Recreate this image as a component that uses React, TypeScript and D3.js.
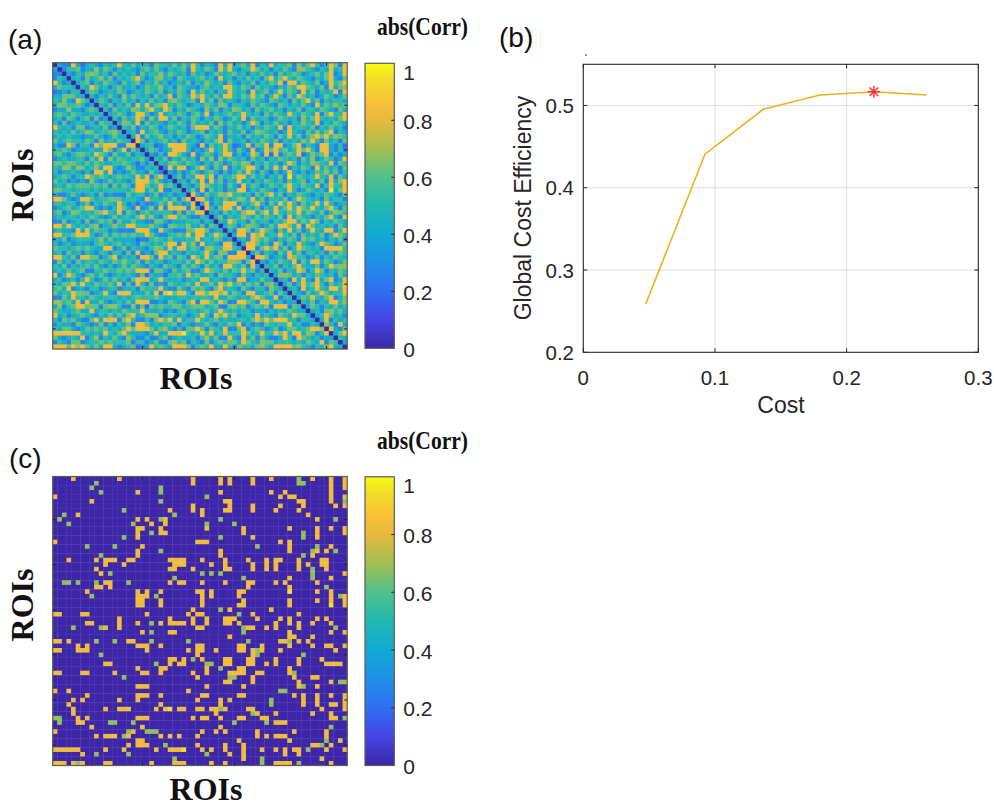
import React, { useMemo } from "react";
import * as d3 from "d3";

// ---------------- DATA ----------------
const N = 64; // number of ROIs

// Panel (a) abs(Corr): one string per row, starting at the diagonal cell (col = row).
// Each digit is a colour level (see digitValues); cells that survive
// the threshold in panel (c) take their value from thresholdedCellsByRow instead.
const corrRowsFromDiagonal: string[] = [
  "04335424 54354535 46455365 54646455 35436454 56453546 45563546 45354635",
  "0355634 45465354 54356464 35456345 46534564 35546453 54643565 43546456",
  "043546 56453645 45364553 46545364 53465456 45354645 36456534 56465345",
  "04536 45546354 56453465 45365445 64536453 54645365 46354654 35465436",
  "0456 35465436 45635464 53454635 46545364 35463546 54356465 46345564",
  "054 36453564 45346556 45365443 56454635 46536454 35465346 54635465",
  "04 65345465 34546546 35465354 64535465 45364563 54465354 63545436",
  "0 53546435 46545364 54365446 35464535 46545635 45364564 53465346",
  "04653546 45354645 36454563 54636454 35465436 54536465 46354554",
  "0546354 63545464 35465345 46545635 54364654 36545464 35465356",
  "053645 45646354 56354654 35463545 64536456 45354635 54654364",
  "04565 34565346 45465356 46354564 53545364 65435465 45364553",
  "0536 45463546 54635465 35465346 45364553 46545354 63545465",
  "045 64536454 35465364 54635464 53546354 64535465 46354654",
  "05 46354653 46545364 35465354 64535465 45364554 63546453",
  "0 45364564 35465345 63545364 46354654 53465436 45465354",
  "04536456 45354653 46546354 53645465 36454635 54635465",
  "0463545 64536454 35465364 45354654 63545465 45364536",
  "045523 46353542 53645352 34536543 52346535 43564352",
  "04653 45362534 35645453 64353426 35645364 53464353",
  "0435 34564353 46535643 53426352 43565424 35643534",
  "054 63546453 54635465 45364535 46545364 53465345",
  "05 46354654 35465346 54635464 53546354 46545365",
  "0 35465346 45364535 46545364 54635465 35464536",
  "04353464 35642534 64353642 53464353 46534635",
  "0463546 45536456 35464535 46354654 53546364",
  "045364 53546354 64535465 45364563 54635465",
  "05435 46545364 35465346 54635465 46354554",
  "0463 53645354 46354654 35465346 54536465",
  "054 36454635 54536465 46354654 35465436",
  "04 65354645 36454635 54635465 45364553",
  "0 46354536 35464536 46545364 53465345",
  "04536454 63546354 54635465 35464536",
  "0453645 46354654 35465346 54635465",
  "046354 53546465 46354654 35465436",
  "05436 45364553 54635465 46354654",
  "0465 35465346 45364535 64545364",
  "053 54635465 36454635 45465354",
  "04 65354645 53546364 54635465",
  "0 45364564 35465345 64535463",
  "04536453 46354654 35465346",
  "0453646 54635465 45364535",
  "046354 36454635 54536465",
  "05463 45364553 46354654",
  "0435 46545364 53465346",
  "054 63546354 46354654",
  "05 46354653 54635465",
  "0 45364535 46545364",
  "04536454 35465346",
  "0463545 64536454",
  "045364 53546354",
  "05436 45364553",
  "0465 35465346",
  "054 63546354",
  "04 65354645",
  "0 45364564",
  "04536453",
  "0463545",
  "045364",
  "05436",
  "0465",
  "054",
  "04",
  "0",
];

// colour level digit -> abs(Corr) value
const digitValues: Record<string, number> = {
  "0": 0,
  "2": 0.2,
  "3": 0.28,
  "4": 0.43,
  "5": 0.53,
  "6": 0.63,
};

// Panel (c) thresholded abs(Corr): non-zero cells of the upper triangle, per row.
// token = <column><level>, level g ~0.68 (green), o ~0.83 (orange), y ~0.95 (yellow)
const thresholdedCellsByRow: string[] = [
  "4o 14o 30o 36o 38o 43o 47o 53g 56o 60o 63o",
  "9g 30o 36o 38o 43o 53g 54g 60o 63o",
  "8g 23g 60o 63o",
  "10g 18o 23g 36o 47o 50o 60o",
  "33g 49o 51o 52o 60o 63o",
  "8o 23g 37o 38o 53o 54o 60o 63g",
  "30o 38o 43o 49o 54o 61o 63o",
  "15g 25o 30o 32o 37o 38o 43o 48o 53o",
  "26g 32o 55o",
  "18o 20o 23g 24o 36g 57o 61g",
  "17g 21o 24o 33g 39g",
  "18o 19o 23o 33o 41o 51o 57o 60o 63o",
  "18o 21g 23o 24o 41o 54g 57o 63o",
  "15g 18o 36g 43o 54g 57o",
  "31o 32o 33o 49o 51o",
  "19o 44g 51o 57g 60o",
  "18o 23g 36o 51o 56g 57o 59o 61g",
  "18o 36o 54g 56o",
  "25o 26o 27o 28o 32o 37o 42o 46o 48o 49o 53o 58o 59o",
  "26o 27o 28o 34o 37o 43o 46o 48o 53o 55o 58o 59o",
  "25o 26o 30o 37o 38o 43o 46o 48o 53o 56g 59o",
  "32g 34g 36g 56g 63o",
  "26g 41g 51o 56g 60o",
  "25o 27o 28o 32o 37o 42o 43o 48o 50o 57o",
  "42o 51o 59g",
  "31o 32o 34o 40o 41o 51y 57o 60o",
  "32o 34o 40o 60o 62g 63o",
  "32o 41o 51o 57o 60o 63o",
  "32o 40o 41o 51o 60y 63o",
  "30o 36g 38o 47o",
  "31o 32o 40g 43o 53o",
  "33o 37o 38o 39o 44o 49o 51o 57o 59o",
  "33o 37o 38o 40o 48o 51o 53o 56o 60o",
  "41g 42o 43o 46o 48o 53o 61g",
  "41g 51o 60o 63o",
  "38o 51o 52o 56o",
  "42g 49o 50o 51g 53o 55o",
  "40o 41o 45o 51o 56o 59o 60o 63o",
  "40o 41o 43o 44g 45o 49o 61o",
  "43o 44g 54g",
  "42o 43o 48o 53o 58o",
  "42o 43o 46o 48o 53o 59o 60o 61o 62o",
  "51o",
  "44o 45o 51o 52g",
  "52o 56o 57o",
  "53o 60o 62g 63g",
  "53o 54g 57o",
  "49g 50g",
  "52o 54o 57o 60o 63o",
  "54o 57o 63o",
  "54o 57o 60o 61o 63o",
  "58o 63o",
  "56o 60o",
  "60o 61o 63g",
  "",
  "60g",
  "59o",
  "59o",
  "59g 62o",
  "60o",
  "63o",
  "",
  "",
  "",
];

const levelValues: Record<string, number> = { g: 0.68, o: 0.83, y: 0.95 };

// parula-like colormap
const parulaPositions = [0, 0.1, 0.2, 0.3, 0.4, 0.5, 0.6, 0.7, 0.8, 0.86, 0.94, 1];
const parulaColors = [
  "#3e26a8", "#4545e4", "#2f6ef4", "#1e8fe6", "#12a9d4", "#22b8b0",
  "#4fc18b", "#a3bf52", "#e6b93d", "#f9c038", "#f2dc2a", "#f9fb0e",
];

const roiColTicks = [20, 40, 60];
const roiRowTicks = [10, 20, 30, 40, 50, 60];
const colorbarTicks = [0, 0.2, 0.4, 0.6, 0.8, 1];
const colorbarTickLabels = ["0", "0.2", "0.4", "0.6", "0.8", "1"];

// Panel (b)
const costValues = [0.0474, 0.0924, 0.1367, 0.1797, 0.2207, 0.2607];
const efficiencyValues = [0.2586, 0.4407, 0.4953, 0.5126, 0.5167, 0.5126];
const optimalIndex = 4;
const costTicks = [0, 0.1, 0.2, 0.3];
const costTickLabels = ["0", "0.1", "0.2", "0.3"];
const efficiencyTicks = [0.2, 0.3, 0.4, 0.5];
const efficiencyTickLabels = ["0.2", "0.3", "0.4", "0.5"];

// ---------------- HELPERS ----------------
const SANS = "'Liberation Sans', Arial, Helvetica, sans-serif";
const SERIF = "'Liberation Serif', 'Times New Roman', serif";

const colorScale = d3
  .scaleLinear<string>()
  .domain(parulaPositions)
  .range(parulaColors)
  .interpolate(d3.interpolateRgb)
  .clamp(true);

function buildThresholded(): number[][] {
  const m = Array.from({ length: N }, () => new Array(N).fill(0));
  thresholdedCellsByRow.forEach((s, i) => {
    s.split(/\s+/)
      .filter(Boolean)
      .forEach((tok) => {
        const j = parseInt(tok, 10);
        const v = levelValues[tok.slice(-1)] ?? 0;
        if (j >= 0 && j < N) {
          m[i][j] = v;
          m[j][i] = v;
        }
      });
  });
  return m;
}

function buildCorr(th: number[][]): number[][] {
  const m = Array.from({ length: N }, () => new Array(N).fill(0));
  corrRowsFromDiagonal.forEach((s, i) => {
    const row = s.replace(/\s/g, "");
    for (let j = i; j < N; j++) {
      const ch = row[j - i];
      const base = digitValues[ch] ?? 0.53;
      const v = j === i ? 0 : th[i][j] > 0 ? th[i][j] : base;
      m[i][j] = v;
      m[j][i] = v;
    }
  });
  return m;
}

type Box = { x0: number; x1: number; y0: number; y1: number };

function Heatmap({ matrix, box }: { matrix: number[][]; box: Box }) {
  const xs = d3.scaleBand<number>().domain(d3.range(N)).range([box.x0, box.x1]);
  const ys = d3.scaleBand<number>().domain(d3.range(N)).range([box.y0, box.y1]);
  const bw = xs.bandwidth();
  const bh = ys.bandwidth();
  const cells: JSX.Element[] = [];
  for (let i = 0; i < N; i++) {
    for (let j = 0; j < N; j++) {
      cells.push(
        <rect
          key={i * N + j}
          x={xs(j)}
          y={ys(i)}
          width={bw + 0.35}
          height={bh + 0.35}
          fill={colorScale(matrix[i][j])}
        />
      );
    }
  }
  const tl = 3;
  return (
    <g>
      {cells}
      <rect
        x={box.x0}
        y={box.y0}
        width={box.x1 - box.x0}
        height={box.y1 - box.y0}
        fill="none"
        stroke="#5a5a5a"
        strokeWidth={1.2}
      />
      {roiColTicks.map((t) => {
        const x = (xs(t - 1) as number) + bw / 2;
        return (
          <g key={"c" + t} stroke="#262626" strokeWidth={1}>
            <line x1={x} x2={x} y1={box.y0} y2={box.y0 + tl} />
            <line x1={x} x2={x} y1={box.y1} y2={box.y1 - tl} />
          </g>
        );
      })}
      {roiRowTicks.map((t) => {
        const y = (ys(t - 1) as number) + bh / 2;
        return (
          <g key={"r" + t} stroke="#262626" strokeWidth={1}>
            <line x1={box.x0} x2={box.x0 + tl} y1={y} y2={y} />
            <line x1={box.x1} x2={box.x1 - tl} y1={y} y2={y} />
          </g>
        );
      })}
    </g>
  );
}

function Colorbar({ box, gradId }: { box: Box; gradId: string }) {
  const y = d3.scaleLinear().domain([0, 1]).range([box.y1, box.y0]);
  return (
    <g>
      <defs>
        <linearGradient id={gradId} x1="0" y1="1" x2="0" y2="0">
          {parulaPositions.map((p, k) => (
            <stop key={k} offset={`${p * 100}%`} stopColor={parulaColors[k]} />
          ))}
        </linearGradient>
      </defs>
      <rect
        x={box.x0}
        y={box.y0}
        width={box.x1 - box.x0}
        height={box.y1 - box.y0}
        fill={`url(#${gradId})`}
        stroke="#5a5a5a"
        strokeWidth={1.2}
      />
      {colorbarTicks.map((t, k) => {
        const yy = y(t);
        const labelY = t === 1 ? box.y0 + 9 : yy + 1;
        return (
          <g key={k}>
            {t > 0 && t < 1 && (
              <line x1={box.x1} x2={box.x1 - 3} y1={yy} y2={yy} stroke="#262626" />
            )}
            <text
              x={box.x1 + 9}
              y={labelY}
              fontFamily={SANS}
              fontSize={21}
              fill="#262626"
              dominantBaseline="central"
            >
              {colorbarTickLabels[k]}
            </text>
          </g>
        );
      })}
    </g>
  );
}

function EfficiencyPlot() {
  const x = d3.scaleLinear().domain([0, 0.3]).range([583.3, 978.3]);
  const y = d3.scaleLinear().domain([0.2, 0.55]).range([352.3, 64.3]);
  const pts = costValues.map((c, k) => [c, efficiencyValues[k]] as [number, number]);
  const line = d3
    .line<[number, number]>()
    .x((d) => x(d[0]))
    .y((d) => y(d[1]));
  const sx = x(costValues[optimalIndex]);
  const sy = y(efficiencyValues[optimalIndex]);
  const r = 6;
  const [X0, X1] = x.range();
  const [Y0, Y1] = y.range();
  const tl = 4;
  return (
    <g>
      {costTicks.slice(1, -1).map((t) => (
        <line key={"gx" + t} x1={x(t)} x2={x(t)} y1={Y0} y2={Y1} stroke="#dedede" strokeWidth={1} />
      ))}
      {efficiencyTicks.slice(1).map((t) => (
        <line key={"gy" + t} x1={X0} x2={X1} y1={y(t)} y2={y(t)} stroke="#dedede" strokeWidth={1} />
      ))}
      <path d={line(pts) || ""} fill="none" stroke="#EDB120" strokeWidth={1.6} />
      <g stroke="#ff2a2a" strokeWidth={1.4}>
        <line x1={sx - r} x2={sx + r} y1={sy} y2={sy} />
        <line x1={sx} x2={sx} y1={sy - r} y2={sy + r} />
        <line x1={sx - r * 0.72} x2={sx + r * 0.72} y1={sy - r * 0.72} y2={sy + r * 0.72} />
        <line x1={sx - r * 0.72} x2={sx + r * 0.72} y1={sy + r * 0.72} y2={sy - r * 0.72} />
      </g>
      <rect x={X0} y={Y1} width={X1 - X0} height={Y0 - Y1} fill="none" stroke="#262626" strokeWidth={1.1} />
      {costTicks.map((t, k) => (
        <g key={"tx" + t}>
          <line x1={x(t)} x2={x(t)} y1={Y0} y2={Y0 - tl} stroke="#262626" />
          <line x1={x(t)} x2={x(t)} y1={Y1} y2={Y1 + tl} stroke="#262626" />
          <text
            x={x(t)}
            y={377}
            textAnchor="middle"
            dominantBaseline="central"
            fontFamily={SANS}
            fontSize={20.5}
            fill="#262626"
          >
            {costTickLabels[k]}
          </text>
        </g>
      ))}
      {efficiencyTicks.map((t, k) => (
        <g key={"ty" + t}>
          <line x1={X0} x2={X0 + tl} y1={y(t)} y2={y(t)} stroke="#262626" />
          <line x1={X1} x2={X1 - tl} y1={y(t)} y2={y(t)} stroke="#262626" />
          <text
            x={574}
            y={y(t)}
            textAnchor="end"
            dominantBaseline="central"
            fontFamily={SANS}
            fontSize={20.5}
            fill="#262626"
          >
            {efficiencyTickLabels[k]}
          </text>
        </g>
      ))}
      <text x={781} y={413} textAnchor="middle" fontFamily={SANS} fontSize={23} fill="#262626">
        Cost
      </text>
      <text
        x={531}
        y={208}
        transform="rotate(-90 531 208)"
        textAnchor="middle"
        fontFamily={SANS}
        fontSize={23}
        fill="#262626"
      >
        Global Cost Efficiency
      </text>
      <circle cx={586} cy={55} r={0.9} fill="#666" />
    </g>
  );
}

export default function App() {
  const thresholded = useMemo(() => buildThresholded(), []);
  const corr = useMemo(() => buildCorr(thresholded), [thresholded]);

  const boxA: Box = { x0: 52.7, x1: 347.2, y0: 62.7, y1: 349 };
  const boxC: Box = { x0: 52.7, x1: 347.2, y0: 476.5, y1: 765.5 };
  const cbA: Box = { x0: 365, x1: 394.3, y0: 63.3, y1: 348.3 };
  const cbC: Box = { x0: 365, x1: 394.3, y0: 476.8, y1: 765.5 };

  return (
    <svg
      width={994}
      height={808}
      viewBox="0 0 994 808"
      style={{ position: "absolute", left: 0, top: 0, background: "#fff" }}
    >
      <rect x={0} y={0} width={994} height={808} fill="#fff" />
      {/* panel labels */}
      <text x={8} y={49} fontFamily={SANS} fontSize={28} fill="#111">(a)</text>
      <text x={499} y={47} fontFamily={SANS} fontSize={28} fill="#111">(b)</text>
      <text x={9} y={468} fontFamily={SANS} fontSize={28} fill="#111">(c)</text>

      {/* panel (a) */}
      <Heatmap matrix={corr} box={boxA} />
      <Colorbar box={cbA} gradId="parulaA" />
      <text
        x={468}
        y={35}
        textAnchor="end"
        fontFamily={SERIF}
        fontWeight="bold"
        fontSize={25}
        textLength={91}
        lengthAdjust="spacingAndGlyphs"
        fill="#111"
      >
        abs(Corr)
      </text>
      <text x={196} y={389} textAnchor="middle" fontFamily={SERIF} fontWeight="bold" fontSize={32} fill="#111">
        ROIs
      </text>
      <text
        x={33}
        y={185}
        transform="rotate(-90 33 185)"
        textAnchor="middle"
        fontFamily={SERIF}
        fontWeight="bold"
        fontSize={32}
        fill="#111"
      >
        ROIs
      </text>

      {/* panel (b) */}
      <EfficiencyPlot />

      {/* panel (c) */}
      <Heatmap matrix={thresholded} box={boxC} />
      <Colorbar box={cbC} gradId="parulaC" />
      <text
        x={468}
        y={449}
        textAnchor="end"
        fontFamily={SERIF}
        fontWeight="bold"
        fontSize={25}
        textLength={91}
        lengthAdjust="spacingAndGlyphs"
        fill="#111"
      >
        abs(Corr)
      </text>
      <text x={206} y={800} textAnchor="middle" fontFamily={SERIF} fontWeight="bold" fontSize={32} fill="#111">
        ROIs
      </text>
      <text
        x={33}
        y={605}
        transform="rotate(-90 33 605)"
        textAnchor="middle"
        fontFamily={SERIF}
        fontWeight="bold"
        fontSize={32}
        fill="#111"
      >
        ROIs
      </text>
    </svg>
  );
}
